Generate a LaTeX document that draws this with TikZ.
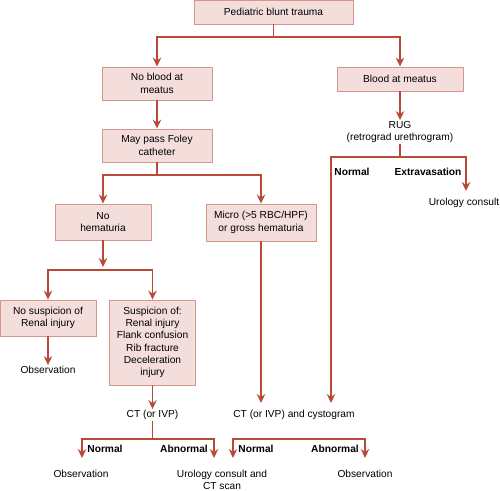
\documentclass[tikz,border=0pt]{standalone}
\usepackage{fontspec}
\setmainfont{Liberation Sans}
\usetikzlibrary{arrows.meta}
\definecolor{lnc}{RGB}{185,74,58}
\definecolor{bxfill}{RGB}{244,222,220}
\definecolor{bxdraw}{RGB}{214,150,142}
\begin{document}
\begin{tikzpicture}[x=1pt,y=-1pt,
  every node/.style={font=\fontsize{10.2}{12.3}\selectfont, align=center},
  bx/.style={draw=bxdraw, fill=bxfill, line width=0.9pt, inner sep=0pt},
  txt/.style={inner sep=1pt},
  lab/.style={inner sep=1pt, font=\fontsize{10.2}{12.3}\selectfont\bfseries},
  lnk/.style={draw=lnc, line width=1.4pt},
  arr/.style={-{Stealth[length=9pt,width=8.5pt,inset=3pt]}},
  arrb/.style={{Stealth[length=9pt,width=8.5pt,inset=3pt]}-{Stealth[length=9pt,width=8.5pt,inset=3pt]}}
]
\useasboundingbox (0,0) rectangle (500,490);

% boxes
\node[bx, minimum width=159pt, minimum height=24pt] (top) at (273.5,12) {Pediatric blunt trauma};
\node[bx, minimum width=110pt, minimum height=33pt] (noblood) at (157,83.5) {No blood at\\meatus};
\node[bx, minimum width=126pt, minimum height=24pt] (blood) at (400,79) {Blood at meatus};
\node[bx, minimum width=110pt, minimum height=33pt] (foley) at (157,145.5) {May pass Foley\\catheter};
\node[bx, minimum width=96pt, minimum height=36pt] (nohem) at (103,222) {No\\hematuria};
\node[bx, minimum width=110pt, minimum height=37pt] (micro) at (261,222.5) {Micro (>5 RBC/HPF)\\or gross hematuria};
\node[bx, minimum width=96pt, minimum height=36pt] (nosusp) at (48,318) {No suspicion of\\Renal injury};
\node[bx, minimum width=86pt, minimum height=85pt] (susp) at (152.5,342.5) {Suspicion of:\\Renal injury\\Flank confusion\\Rib fracture\\Deceleration\\injury};

% plain texts
\node[txt] (rug) at (400,132) {RUG\\(retrograd urethrogram)};
\node[txt] (ucons) at (464,203) {Urology consult};
\node[txt] (obs1) at (48,370) {Observation};
\node[txt] (ct1) at (152.5,415) {CT (or IVP)};
\node[txt] (ctcyst) at (294,415) {CT (or IVP) and cystogram};
\node[txt] (obs2) at (81,474) {Observation};
\node[txt] (ucct) at (222,479.5) {Urology consult and\\CT scan};
\node[txt] (obs3) at (365,474) {Observation};

% branch labels
\node[lab] (ln1) at (352,172) {Normal};
\node[lab] (le1) at (428,172) {Extravasation};
\node[lab] (ln2) at (105,449) {Normal};
\node[lab] (la2) at (184,449) {Abnormal};
\node[lab] (ln3) at (256,449) {Normal};
\node[lab] (la3) at (335,449) {Abnormal};

% junction and tip coordinates
\coordinate (j0) at (273.5,37);
\coordinate (j1) at (400,157);
\coordinate (j2) at (157,175);
\coordinate (j3) at (103,270);
\coordinate (j4) at (152.5,439);
\coordinate (tu) at (466,191);
\coordinate (t331) at (331,403);
\coordinate (t261) at (261,403);
\coordinate (tl1) at (82,458);
\coordinate (tl2) at (214,458);
\coordinate (tr1) at (233,458);
\coordinate (tr2) at (365,458);
\coordinate (mr) at (365,439);

% connectors
\draw[lnk] (top.south) -- (j0);
\draw[lnk,arr] (j0) -| (noblood.north);
\draw[lnk,arr] (j0) -| (blood.north);
\draw[lnk,arr] (noblood.south) -- (foley.north);
\draw[lnk,arr] (blood.south) -- (rug.north);
\draw[lnk] (rug.south) -- (j1);
\draw[lnk,arr] (j1) -| (tu);
\draw[lnk,arr] (j1) -| (t331);
\draw[lnk] (foley.south) -- (j2);
\draw[lnk,arr] (j2) -| (nohem.north);
\draw[lnk,arr] (j2) -| (micro.north);
\draw[lnk,arr] (micro.south) -- (t261);
\draw[lnk,arr,shorten >=3pt] (nohem.south) -- (j3);
\draw[lnk,arr] (j3) -| (nosusp.north);
\draw[lnk,arr] (j3) -| (susp.north);
\draw[lnk,arr] (nosusp.south) -- (obs1.north);
\draw[lnk,arr] (susp.south) -- (ct1.north);
\draw[lnk] (ct1.south) -- (j4);
\draw[lnk,arr] (j4) -| (tl1);
\draw[lnk,arr] (j4) -| (tl2);
\draw[lnk,arrb] (tr1) |- (mr) -- (tr2);
\end{tikzpicture}
\end{document}
